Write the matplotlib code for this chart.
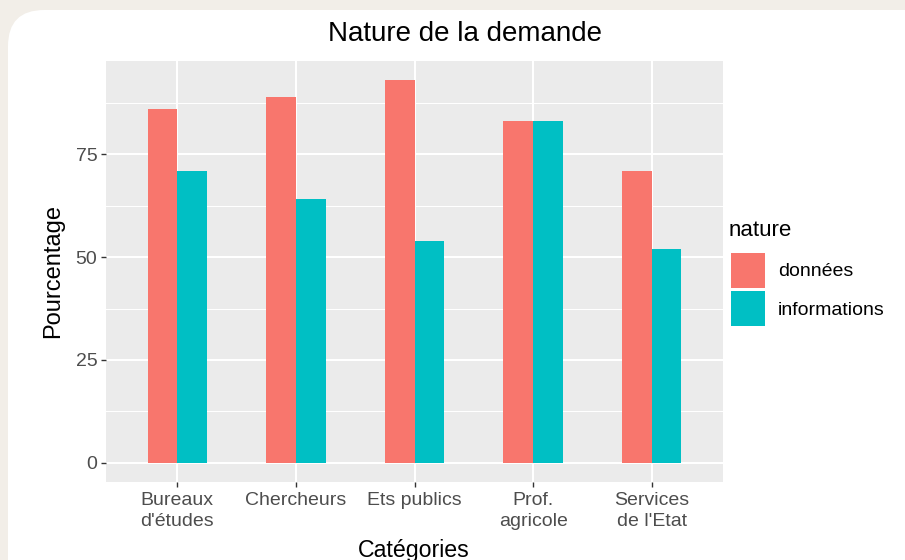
import numpy as np
import matplotlib
matplotlib.use("Agg")
import matplotlib.pyplot as plt
from matplotlib.patches import FancyBboxPatch, Patch

plt.rcParams["font.family"] = ["Liberation Sans", "DejaVu Sans"]

W, H = 905, 560

categories = ["Bureaux\nd'études", "Chercheurs", "Ets publics", "Prof.\nagricole", "Services\nde l'Etat"]
donnees = [86, 89, 93, 83, 71]
informations = [71, 64, 54, 83, 52]
series_names = ["données", "informations"]
yticks = [0, 25, 50, 75]

RED, CYAN = "#F8766D", "#00BFC4"


def fx(px):
    return px / W


def fy(py):
    # pixel from top -> figure fraction
    return 1 - py / H


fig = plt.figure(figsize=(W / 100, H / 100), dpi=100)
fig.patch.set_facecolor("#F2EEE8")

# white card behind the plot
card = FancyBboxPatch(
    (fx(8), -0.1), 1.2, fy(10) + 0.1,
    boxstyle="round,pad=0,rounding_size=0.04",
    transform=fig.transFigure, facecolor="white", edgecolor="none",
    mutation_aspect=W / H, zorder=-10,
)
fig.add_artist(card)

ax = fig.add_axes([fx(106), fy(482), fx(723) - fx(106), fy(61) - fy(482)])
ax.set_facecolor("#EBEBEB")

x = np.arange(1, len(categories) + 1)
bw = 0.25
ax.bar(x - bw / 2, donnees, bw, color=RED, zorder=3)
ax.bar(x + bw / 2, informations, bw, color=CYAN, zorder=3)

ax.set_xlim(0.4, 5.6)
ax.set_ylim(-4.65, 97.65)
ax.set_xticks(x)
ax.set_xticklabels(categories, fontsize=14, color="#4D4D4D", linespacing=1.33)
ax.set_yticks(yticks)
ax.set_yticklabels([str(v) for v in yticks], fontsize=14, color="#4D4D4D")
ax.set_yticks([12.5, 37.5, 62.5, 87.5], minor=True)
ax.tick_params(axis="both", which="major", length=3.3, width=1, color="#333333", pad=3)
ax.tick_params(axis="x", which="major", pad=4)
ax.tick_params(axis="both", which="minor", length=0)

ax.set_axisbelow(True)
ax.grid(which="major", color="white", linewidth=1.5)
ax.grid(which="minor", axis="y", color="white", linewidth=0.75)
for s in ax.spines.values():
    s.set_visible(False)

fig.text(fx(465), fy(34), "Nature de la demande", ha="center", va="center", fontsize=20)
fig.text(fx(53), fy(271), "Pourcentage", ha="center", va="center", rotation=90, fontsize=17)
fig.text(fx(414), fy(557), "Catégories", ha="center", va="baseline", fontsize=16.7)

# legend title drawn on its own so the gap above the keys matches
fig.text(fx(729), fy(230), "nature", ha="left", va="center", fontsize=16)
handles = [Patch(facecolor=RED, edgecolor="none"), Patch(facecolor=CYAN, edgecolor="none")]
leg = fig.legend(
    handles, series_names,
    loc="upper left", bbox_to_anchor=(fx(731), fy(253)),
    frameon=False, fontsize=14,
    handlelength=1.75, handleheight=2.36, handletextpad=0.65,
    labelspacing=0.2, borderpad=0, borderaxespad=0,
)

fig.savefig("out.png", dpi=100, facecolor=fig.get_facecolor())
